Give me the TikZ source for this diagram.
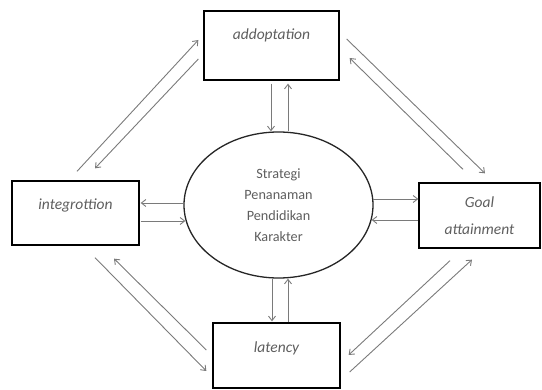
\documentclass[tikz,border=0pt]{standalone}
\usepackage{fontspec}
\setmainfont{Carlito}
\usetikzlibrary{arrows.meta,calc,shapes.geometric}
\definecolor{txt}{HTML}{5E5E5E}
\definecolor{arr}{HTML}{7A7A7A}
\begin{document}
\begin{tikzpicture}[x=1pt,y=-1pt,
  boxnode/.style={draw=black,line width=1.3pt,rectangle,inner sep=0pt,
    font=\fontsize{15.5}{21}\selectfont\itshape,text=txt,align=center},
  ellnode/.style={draw=black!85,line width=1.3pt,ellipse,inner sep=0pt,
    minimum width=189pt,minimum height=146pt,
    font=\fontsize{14.2}{21}\selectfont,text=txt,align=center},
  conn/.style={draw=arr,line width=0.9pt,-{Straight Barb[length=4.5pt,width=7pt]}}]
\useasboundingbox (0,0) rectangle (542,390);
\node[boxnode,minimum width=135pt,minimum height=69pt,text height=11pt,text depth=23pt] (top) at (271.5,45.5) {addoptation};
\node[boxnode,minimum width=127pt,minimum height=64pt,text height=11pt,text depth=18pt] (left) at (75.5,213) {integrottion};
\node[boxnode,minimum width=121pt,minimum height=65pt,font=\fontsize{15.5}{27}\selectfont\itshape] (right) at (479.5,215.5) {Goal\\attainment};
\node[boxnode,minimum width=127pt,minimum height=65pt,text height=11pt,text depth=17pt] (bottom) at (276.5,355.5) {latency};
\node[ellnode] (el) at (278.5,205) {Strategi\\Penanaman\\Pendidikan\\Karakter};
% vertical
\draw[conn] ($(top.south)+(-0.5,3)$) -- ($(el.north)+(-7.5,0)$);
\draw[conn] ($(el.north)+(9.5,0)$) -- ($(top.south)+(16.5,3)$);
\draw[conn] ($(el.south)+(-6.5,0)$) -- ($(bottom.north)+(-4.5,-1)$);
\draw[conn] ($(bottom.north)+(11.5,0)$) -- ($(el.south)+(9.5,0)$);
% horizontal
\draw[conn] ($(el.west)+(0,-2)$) -- ($(left.east)+(1,-10)$);
\draw[conn] ($(left.east)+(1,8)$) -- ($(el.west)+(2,16)$);
\draw[conn] ($(el.east)+(-1,-6)$) -- ($(right.west)+(0,-16.5)$);
\draw[conn] ($(right.west)+(0,4.5)$) -- ($(el.east)+(-2,15)$);
% diagonals top-left
\draw[conn] ($(left.north)+(1.5,-9)$) -- ($(top.west)+(-5,-5.5)$);
\draw[conn] ($(top.west)+(-5,13.5)$) -- ($(left.north)+(19.5,-12)$);
% top-right
\draw[conn] ($(top.east)+(7,-6.5)$) -- ($(right.north)+(5.5,-9)$);
\draw[conn] ($(right.north)+(-16.5,-13)$) -- ($(top.east)+(10,12.5)$);
% bottom-left
\draw[conn] ($(left.south)+(19.5,12)$) -- ($(bottom.west)+(-6,15.5)$);
\draw[conn] ($(bottom.west)+(-6,-5.5)$) -- ($(left.south)+(38.5,13)$);
% bottom-right
\draw[conn] ($(right.south)+(-29.5,12)$) -- ($(bottom.east)+(8,-0.5)$);
\draw[conn] ($(bottom.east)+(9,16.5)$) -- ($(right.south)+(-7.5,11)$);
\end{tikzpicture}
\end{document}
